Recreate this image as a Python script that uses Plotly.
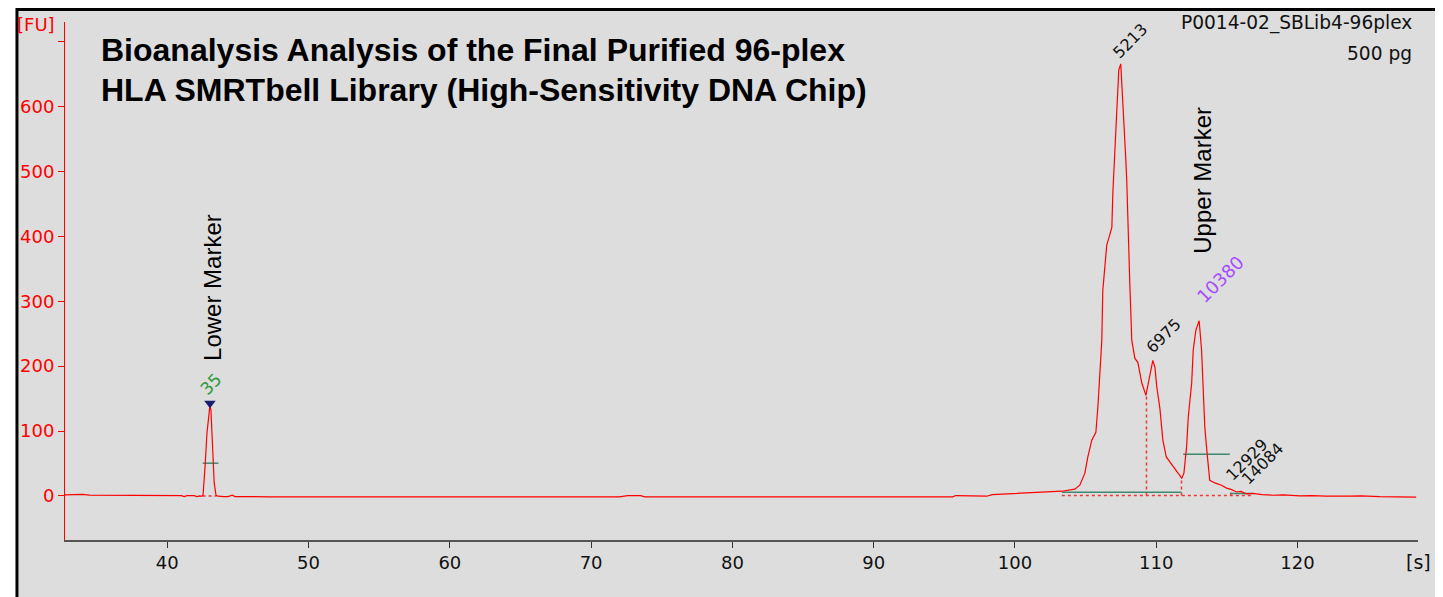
import plotly.graph_objects as go

# ---------------- data ----------------
time_s = [32.76, 33.2, 33.5, 34.0, 34.5, 35.5, 36.2, 37.0, 39.0, 41.0, 41.2, 41.4, 41.9, 42.1, 42.3,
          42.45, 42.53, 42.60, 42.67, 42.81, 42.95, 43.02, 43.09, 43.16, 43.23, 43.32, 43.45, 43.6,
          44.0, 44.3, 44.6, 44.8, 46.0, 47.0, 47.2, 50.0, 55.0, 57.0, 60.0, 65.0, 70.0, 72.0, 72.6,
          73.5, 73.8, 80.0, 85.0, 90.0, 95.0, 95.6, 95.8, 97.0, 97.8, 98.0, 98.4, 99.0, 100.0, 100.5,
          101.0, 101.76, 102.5, 103.32, 104.24, 104.59, 104.95, 105.16, 105.44, 105.73, 105.87,
          106.01, 106.15, 106.22, 106.36, 106.50, 106.64, 106.86, 106.93, 107.07, 107.21, 107.35,
          107.49, 107.64, 107.71, 107.85, 107.92, 107.99, 108.06, 108.13, 108.27, 108.49, 108.70,
          108.98, 109.27, 109.55, 109.76, 109.91, 110.04, 110.26, 110.47, 110.71, 111.07, 111.42,
          111.65, 111.81, 111.96, 112.15, 112.27, 112.51, 112.62, 112.81, 113.04, 113.21, 113.32,
          113.44, 113.60, 113.79, 114.15, 114.62, 114.98, 115.3, 115.68, 116.0, 116.4, 116.84,
          117.5, 118.25, 119.0, 120.16, 121.0, 122.0, 123.7, 124.5, 125.8, 127.0, 128.4]
fu = [1.5, 2.0, 1.5, 2.2, 1.2, 1.0, 1.5, 1.0, 1.0, 0.5, -1.0, 0.5, 0.5, -1.0, 0.0,
      -0.5, 1.0, 20, 44, 97, 128, 140, 132, 101, 50, 20, 1.0, -0.5,
      -1.0, -1.0, 1.0, -1.0, -1.0, -0.5, -1.5, -1.5, -1.5, -1.0, -1.5, -1.5, -1.5, -1.5, 0.5,
      0.5, -1.5, -1.5, -1.5, -1.5, -1.5, -1.5, 0.5, 0.5, 0.5, -0.5, 2.0, 2.5, 3.5, 4.0,
      4.5, 5.7, 6.5, 7.2, 10.3, 16.5, 35, 60, 86, 98, 137,
      190, 240, 317, 356, 387, 397, 414, 467, 530, 602, 657,
      666, 610, 584, 518, 482, 422, 379, 328, 240, 212, 206,
      174, 155, 183, 209, 198, 168, 135, 86, 60, 50, 40,
      32, 27, 35, 76, 122, 174, 225, 256, 270, 225, 174,
      106, 66, 24, 20, 16.5, 12, 10, 6, 7, 3, 4,
      2, 1, 1.5, 0, 0.5, -0.5, -0.5, 0, -1.2, -1.5, -2]

# labelled peaks
peak_times = [43.02, 107.49, 109.76, 113.04, 115.0, 116.2]
peak_fu = [140, 666, 209, 270, 12, 7]
peak_labels = ["35", "5213", "6975", "10380", "12929", "14084"]
peak_colors = ["#2f9a3a", "#111111", "#111111", "#a64dff", "#111111", "#111111"]
peak_font_sizes = [17, 16, 16, 18, 16, 16]
peak_shift_x = [1, 10, 11, 21, 20, 19]
peak_shift_y = [21, 23, 25, 41, 29, 28]

# peak-region baselines / half-height bars (green)
green_x0 = [42.51, 103.32, 111.91, 115.28]
green_x1 = [43.62, 111.79, 115.21, 116.84]
green_y = [50.4, 5.7, 64.3, 3.7]

# dotted integration limits (red)
dot_h_x0 = [42.5, 103.32]
dot_h_x1 = [43.5, 116.84]
dot_h_y = [0.0, 0.5]
dot_v_x = [109.31, 111.79, 115.28]
dot_v_top = [155, 27, 6]

# marker labels
marker_names = ["Lower Marker", "Upper Marker"]
marker_x = [43.16, 113.22]
marker_y = [322, 487]

y_ticks = [0, 100, 200, 300, 400, 500, 600, 700]
y_tick_text = ["0", "100", "200", "300", "400", "500", "600", ""]
x_ticks = [40, 50, 60, 70, 80, 90, 100, 110, 120]

# ---------------- figure ----------------
fig = go.Figure()

# dotted red lines
dx, dy = [], []
for a, b, y in zip(dot_h_x0, dot_h_x1, dot_h_y):
    dx += [a, b, None]
    dy += [y, y, None]
for x, t in zip(dot_v_x, dot_v_top):
    dx += [x, x, None]
    dy += [0.5, t, None]
fig.add_trace(go.Scatter(x=dx, y=dy, mode="lines",
                         line=dict(color="#ee3838", width=1.5, dash="3px,3px"),
                         hoverinfo="skip", showlegend=False))

# green bars
gx, gy = [], []
for a, b, y in zip(green_x0, green_x1, green_y):
    gx += [a, b, None]
    gy += [y, y, None]
fig.add_trace(go.Scatter(x=gx, y=gy, mode="lines",
                         line=dict(color="#3d8a6e", width=1.5),
                         hoverinfo="skip", showlegend=False))

# main trace
fig.add_trace(go.Scatter(x=time_s, y=fu, mode="lines",
                         line=dict(color="#ff0000", width=1.2),
                         hoverinfo="skip", showlegend=False))

# lower marker triangle
fig.add_trace(go.Scatter(x=[peak_times[0]], y=[peak_fu[0] + 3], mode="markers",
                         marker=dict(symbol="triangle-down", size=10, color="#1c1c6e"),
                         hoverinfo="skip", showlegend=False))

annotations = []
for t, f, lab, col, fs, sx, sy in zip(peak_times, peak_fu, peak_labels, peak_colors,
                                       peak_font_sizes, peak_shift_x, peak_shift_y):
    annotations.append(dict(x=t, y=f, xref="x", yref="y", text=lab, showarrow=False,
                            textangle=-45, xshift=sx, yshift=sy,
                            font=dict(family="DejaVu Sans", size=fs, color=col),
                            xanchor="center", yanchor="middle"))
for name, x, y in zip(marker_names, marker_x, marker_y):
    annotations.append(dict(x=x, y=y, xref="x", yref="y", text=name, showarrow=False,
                            textangle=-90,
                            font=dict(family="Liberation Sans, Arial", size=24, color="#000000"),
                            xanchor="center", yanchor="middle"))

title_font = dict(family="Liberation Sans, Arial", size=32, color="#000000")
annotations += [
    dict(x=0.0251, y=0.946, xref="paper", yref="paper", showarrow=False, xanchor="left",
         yanchor="middle", text="<b>Bioanalysis Analysis of the Final Purified 96-plex</b>",
         font=title_font),
    dict(x=0.0251, y=0.869, xref="paper", yref="paper", showarrow=False, xanchor="left",
         yanchor="middle", text="<b>HLA SMRTbell Library (High-Sensitivity DNA Chip)</b>",
         font=title_font),
    dict(x=0.997, y=0.998, xref="paper", yref="paper", showarrow=False, xanchor="right",
         yanchor="middle", text="P0014-02_SBLib4-96plex",
         font=dict(family="DejaVu Sans", size=18.6, color="#111111")),
    dict(x=0.997, y=0.940, xref="paper", yref="paper", showarrow=False, xanchor="right",
         yanchor="middle", text="500 pg",
         font=dict(family="DejaVu Sans", size=18.6, color="#111111")),
    dict(x=-0.0214, y=0.996, xref="paper", yref="paper", showarrow=False, xanchor="center",
         yanchor="middle", text="[FU]",
         font=dict(family="DejaVu Sans", size=18, color="#ff0000")),
    dict(x=1.0, y=-0.0425, xref="paper", yref="paper", showarrow=False, xanchor="center",
         yanchor="middle", text="[s]",
         font=dict(family="DejaVu Sans", size=19, color="#111111")),
]

fig.update_layout(
    width=1443, height=597,
    margin=dict(l=57, r=33, t=14, b=65, pad=0, autoexpand=False),
    paper_bgcolor="#ffffff",
    plot_bgcolor="rgba(0,0,0,0)",
    showlegend=False,
    annotations=annotations,
    shapes=[dict(type="rect", xref="paper", yref="paper",
                 x0=-0.0355, x1=1.0151, y0=-0.14, y1=1.0241,
                 line=dict(color="#000000", width=3), fillcolor="#dddddd", layer="below")],
)
fig.update_xaxes(range=[32.76, 128.53], tickvals=x_ticks, showgrid=False, zeroline=False,
                 automargin=False,
                 showline=True, linecolor="#555555", linewidth=1.5,
                 ticks="outside", ticklen=6, tickcolor="#333333", tickwidth=1.2,
                 tickfont=dict(family="DejaVu Sans", size=18, color="#111111"))
fig.update_yaxes(range=[-68, 730.6], tickvals=y_ticks, ticktext=y_tick_text, showgrid=False,
                 automargin=False,
                 zeroline=False, showline=True, linecolor="#ff0000", linewidth=1,
                 ticks="outside", ticklen=6, tickcolor="#ff0000", tickwidth=1,
                 tickfont=dict(family="DejaVu Sans", size=18, color="#ff0000"))

fig.write_html("out.html")
